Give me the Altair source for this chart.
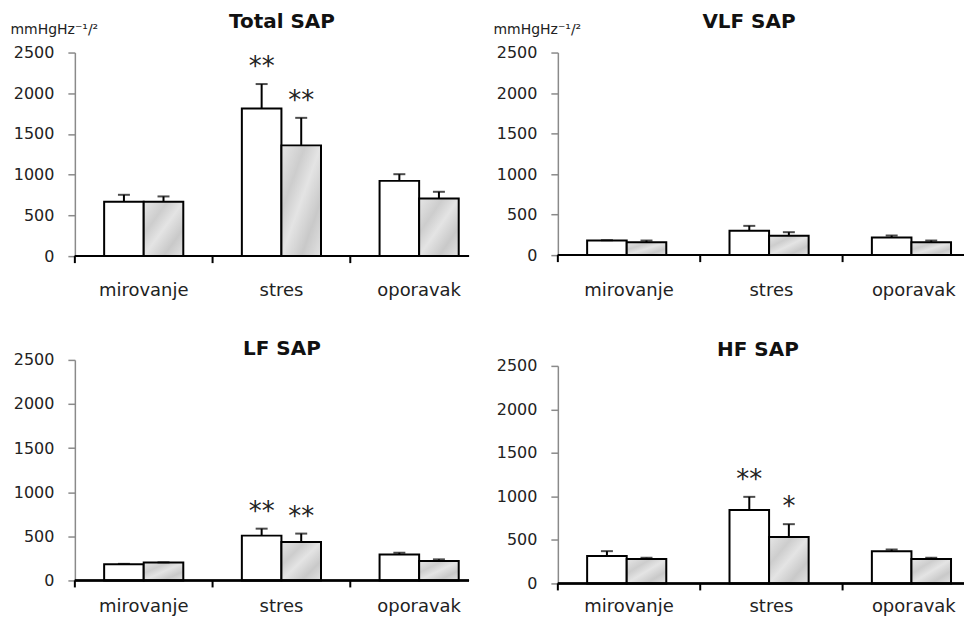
import altair as alt
import pandas as pd

categories = ["mirovanje", "stres", "oporavak"]
groups = ["a", "b"]
titles = ["Total SAP", "VLF SAP", "LF SAP", "HF SAP"]
y_ticks = [0, 500, 1000, 1500, 2000, 2500]
unit_label = "mmHgHz⁻¹/²"

total_white = [668, 1812, 924]
total_white_err = [753, 2113, 1006]
total_grey = [668, 1360, 708]
total_grey_err = [733, 1698, 790]
total_white_star = ["", "**", ""]
total_grey_star = ["", "**", ""]

vlf_white = [180, 300, 218]
vlf_white_err = [184, 361, 242]
vlf_grey = [160, 238, 160]
vlf_grey_err = [180, 283, 180]
vlf_white_star = ["", "", ""]
vlf_grey_star = ["", "", ""]

lf_white = [183, 508, 295]
lf_white_err = [188, 587, 314]
lf_grey = [202, 437, 220]
lf_grey_err = [205, 531, 239]
lf_white_star = ["", "**", ""]
lf_grey_star = ["", "**", ""]

hf_white = [314, 843, 371]
hf_white_err = [371, 995, 390]
hf_grey = [280, 533, 280]
hf_grey_err = [295, 681, 295]
hf_white_star = ["", "**", ""]
hf_grey_star = ["", "*", ""]

FONT = "DejaVu Sans"

grey_fill = alt.Gradient(
    gradient="linear", x1=0, y1=0, x2=1, y2=1,
    stops=[
        alt.GradientStop(color="#e6e6e6", offset=0),
        alt.GradientStop(color="#cdcdcd", offset=0.3),
        alt.GradientStop(color="#e4e4e4", offset=0.5),
        alt.GradientStop(color="#c9c9c9", offset=0.75),
        alt.GradientStop(color="#e2e2e2", offset=1),
    ],
)


def panel(title, white, white_err, grey, grey_err, wstar, gstar,
          width, height, rng, show_unit, title_dx, title_offset, label_off):
    df = pd.DataFrame({
        "cat": categories + categories,
        "grp": ["a"] * 3 + ["b"] * 3,
        "val": white + grey,
        "err": white_err + grey_err,
        "star": wstar + gstar,
    })
    cats_df = pd.DataFrame({"cat": categories})
    xscale = alt.Scale(domain=categories, range=[0, rng], paddingInner=0, paddingOuter=0)
    yscale = alt.Scale(domain=[0, 2500], nice=False)
    yargs = dict(values=y_ticks, format="d", grid=False, domainColor="#8a8a8a",
                 domainWidth=1.5, tickColor="#8a8a8a", tickSize=7, tickWidth=1.5,
                 labelFont=FONT, labelFontSize=16, labelColor="#222", labelPadding=14)
    if show_unit:
        yaxis = alt.Axis(title=unit_label, titleAngle=0, titleAlign="left",
                         titleBaseline="alphabetic", titleX=-65, titleY=-19,
                         titleFont=FONT, titleFontSize=14, titleFontWeight="normal",
                         titleColor="#222", **yargs)
    else:
        yaxis = alt.Axis(title=None, **yargs)

    def X(**kw):
        return alt.X("cat:N", sort=categories, scale=xscale, axis=None, **kw)

    def Y(field):
        return alt.Y(field, type="quantitative", scale=yscale, axis=yaxis)

    xo = alt.XOffset("grp:N", sort=groups,
                     scale=alt.Scale(domain=groups, paddingInner=0, paddingOuter=0.74))

    base = alt.Chart(df)
    bw = base.transform_filter(alt.datum.grp == "a").mark_bar(
        fill="white", stroke="black", strokeWidth=2).encode(x=X(), xOffset=xo, y=Y("val"))
    bg = base.transform_filter(alt.datum.grp == "b").mark_bar(
        fill=grey_fill, stroke="black", strokeWidth=2).encode(x=X(), xOffset=xo, y=Y("val"))
    er = base.mark_rule(color="black", strokeWidth=2).encode(
        x=X(), xOffset=xo, y=Y("val"), y2="err")
    cap = base.mark_tick(color="black", thickness=2, size=12, orient="horizontal").encode(
        x=X(), xOffset=xo, y=Y("err"))
    stars = base.mark_text(font=FONT, fontSize=26, baseline="alphabetic", dy=-9,
                           color="#222").encode(x=X(), xOffset=xo, y=Y("err"), text="star:N")
    baseline = alt.Chart(cats_df).mark_rule(color="black", strokeWidth=2).encode(
        x=alt.value(0), x2=alt.value(width), y=alt.value(height))
    xticks = alt.Chart(cats_df).mark_rule(color="black", strokeWidth=2).encode(
        x=X(bandPosition=0), y=alt.value(height), y2=alt.value(height + 7))
    xlabels = alt.Chart(cats_df).mark_text(font=FONT, fontSize=18, baseline="alphabetic",
                                           color="#222").encode(
        x=X(), y=alt.value(height + label_off), text="cat:N")

    return alt.layer(bw, bg, er, cap, stars, baseline, xticks, xlabels).properties(
        width=width, height=height,
        title=alt.TitleParams(text=title, font=FONT, fontSize=20, fontWeight="bold",
                              color="#111", anchor="middle", frame="group",
                              dx=title_dx, offset=title_offset),
    )


p1 = panel(titles[0], total_white, total_white_err, total_grey, total_grey_err,
           total_white_star, total_grey_star, 395, 204, 414, True, 10, -9, 40)
p2 = panel(titles[1], vlf_white, vlf_white_err, vlf_grey, vlf_grey_err,
           vlf_white_star, vlf_grey_star, 407, 203, 428, True, -12, -9, 41)
p3 = panel(titles[2], lf_white, lf_white_err, lf_grey, lf_grey_err,
           lf_white_star, lf_grey_star, 395, 221, 414, False, 10, -7, 32)
p4 = panel(titles[3], hf_white, hf_white_err, hf_grey, hf_grey_err,
           hf_white_star, hf_grey_star, 407, 218, 428, False, -3, -2, 29)

left = alt.vconcat(p1, p3, spacing=104, bounds="flush")
right = alt.vconcat(p2, p4, spacing=111, bounds="flush")

chart = alt.hconcat(left, right, spacing=23).properties(
    padding={"left": 2, "top": 3, "right": 0, "bottom": 0},
    background="white",
).configure_view(stroke=None)

chart.save("out.html", embed_options={"renderer": "svg", "actions": False})
